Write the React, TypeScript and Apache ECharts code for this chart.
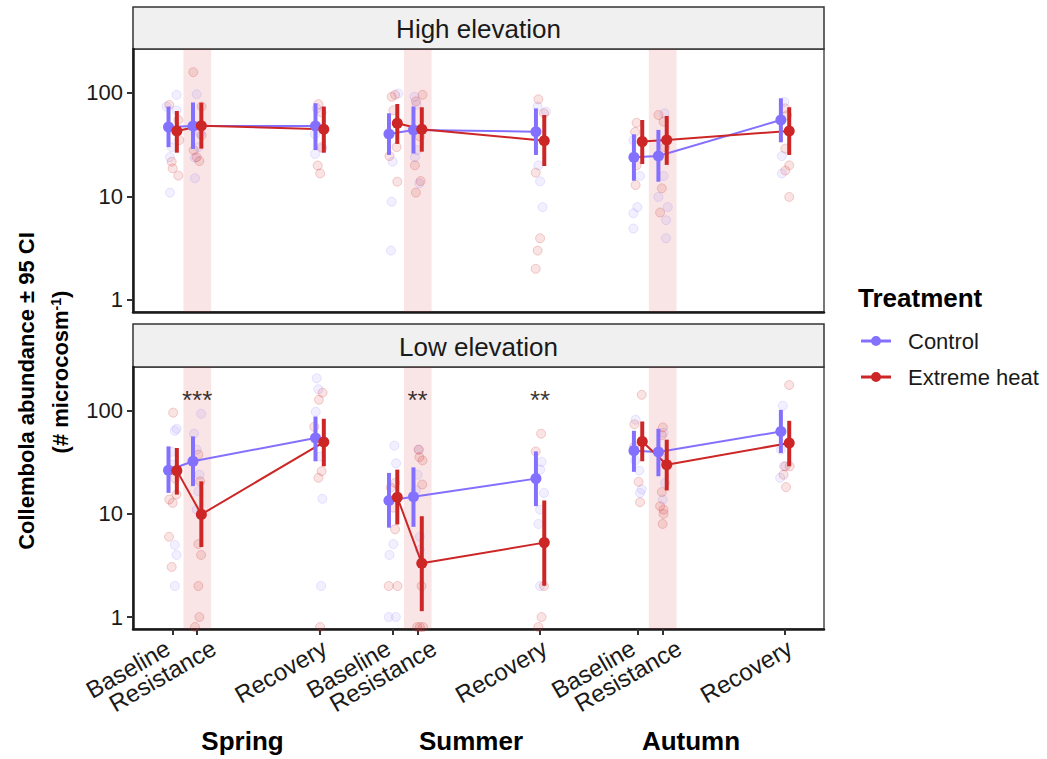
import React, { useEffect, useRef } from 'react';
import * as echarts from 'echarts';

const FONT = "'Liberation Sans', Arial, Helvetica, sans-serif";
const CONTROL = '#8470FF';
const HEAT = '#CD2626';

// x positions (time units) of the nine sampling points
const positions = [0, 1, 6, 9, 10, 15, 19, 20, 25];
const phaseLabels = ['Baseline', 'Resistance', 'Recovery', 'Baseline', 'Resistance', 'Recovery', 'Baseline', 'Resistance', 'Recovery'];
const seasons = ['Spring', 'Summer', 'Autumn'];
const panelTitles = ['High elevation', 'Low elevation'];
const treatments = ['Control', 'Extreme heat'];
const yTickValues = [1, 10, 100];

// High elevation – means and 95% CI
const highControlMean = [47, 48, 48, 40.2, 44, 42.3, 23.9, 24.6, 54.8];
const highControlLo = [30, 28.8, 28.1, 25.2, 26, 25.2, 14.2, 13.9, 33.4];
const highControlHi = [74, 81, 79.6, 63.7, 74, 71, 39.9, 44, 88.9];
const highHeatMean = [43, 48.3, 44.6, 51, 44.6, 34.6, 33.9, 35.2, 43];
const highHeatLo = [26.5, 29, 26.5, 32.2, 27.1, 19.7, 20.6, 20.2, 25.2];
const highHeatHi = [67, 80.6, 74, 78.3, 72.8, 61.3, 54.8, 60, 72.8];

// Low elevation – means and 95% CI
const lowControlMean = [26.5, 32.4, 54.5, 13.5, 14.7, 22, 41.1, 39.9, 63];
const lowControlLo = [16, 18.6, 32.4, 7.36, 7.5, 11.9, 25.6, 23.2, 39];
const lowControlHi = [45.2, 56.5, 88, 25, 28.3, 40.4, 64, 67, 102];
const lowHeatMean = [26.3, 9.9, 49.8, 14.5, 3.32, 5.27, 50.5, 30, 48.7];
const lowHeatLo = [15.4, 4.78, 29, 7.9, 1.14, 2.01, 32.4, 16.9, 29];
const lowHeatHi = [43.6, 20.7, 83.7, 26.9, 9.5, 13.5, 78.8, 52.5, 80];

// raw microcosm values [jittered x, abundance]
const highControlRaw = [
  [0.16, 96], [-0.25, 74], [-0.11, 24], [-0.11, 10.9], [0.16, 68], [-0.04, 30],
  [0.98, 97], [1.12, 41], [0.91, 23.7], [0.91, 15], [1.05, 30],
  [5.88, 71], [5.81, 25.8], [6.11, 29.2], [5.81, 40],
  [9.21, 99], [8.98, 21.7], [8.94, 8.9], [8.91, 3.0],
  [9.87, 92], [9.96, 77], [9.89, 24], [10.07, 13.4], [9.98, 28],
  [14.9, 74], [14.93, 20], [15.0, 14], [15.1, 7.9], [15.24, 66],
  [18.81, 35], [19.08, 15.8], [18.97, 7.9], [18.81, 6.9], [18.81, 4.9],
  [20.08, 63.7], [20.04, 15.8], [19.83, 9.9], [20.21, 7.9], [20.14, 5.9], [20.14, 3.95],
  [24.97, 82], [24.87, 24.6], [24.87, 16.7],
];
const highHeatRaw = [
  [-0.14, 76.6], [-0.04, 21.7], [0.0, 18.7], [0.23, 15.9], [0.23, 55], [0.27, 35],
  [0.84, 159], [1.18, 74], [0.86, 28], [1.09, 22], [0.98, 24], [1.18, 39],
  [5.95, 78], [6.08, 30], [5.92, 19.9], [6.02, 16.7], [6.08, 65],
  [8.94, 92], [9.08, 96], [9.01, 68], [8.85, 24.6], [9.17, 13.9], [9.14, 30],
  [10.2, 96], [9.93, 83], [9.89, 20], [10.12, 14.1], [9.93, 10.9], [10.09, 38],
  [14.93, 87], [15.16, 63.7], [14.82, 17], [15.0, 3.95], [14.9, 3.0], [14.82, 2.0],
  [18.94, 51.6], [18.88, 42], [18.94, 20], [18.9, 12.9],
  [19.83, 61.3], [20.04, 52.8], [19.97, 12], [19.9, 7], [20.1, 30],
  [25.01, 71], [25.08, 61], [25.01, 29], [25.17, 20], [25.01, 17.8], [25.17, 9.9],
];
const lowControlRaw = [
  [0.09, 64], [0.16, 67], [-0.04, 40], [0.09, 5.0], [0.16, 4.0], [0.09, 2.0], [0.0, 30],
  [1.16, 93.5], [0.87, 60], [0.98, 42], [1.05, 16.6], [0.98, 11], [1.1, 24],
  [5.88, 207], [5.95, 162], [5.84, 98], [6.11, 14], [6.06, 2.0], [6.02, 36],
  [9.05, 46], [9.12, 31], [9.01, 5.1], [8.85, 4.0], [8.82, 1.0], [9.11, 1.0],
  [10.05, 42], [10.09, 6.0], [10.09, 4.5], [9.93, 17], [10.0, 24],
  [15.06, 32], [15.0, 26.9], [15.16, 16], [15.0, 11], [14.93, 8.0], [15.0, 2.0],
  [18.9, 82], [19.05, 26.3], [19.15, 17.3], [19.08, 16], [18.88, 33],
  [20.04, 61], [20.1, 20], [20.01, 13.8], [19.97, 35],
  [24.91, 112], [24.8, 22.4], [24.83, 42], [24.95, 29],
];
const lowHeatRaw = [
  [0.02, 96], [-0.14, 13.8], [0.0, 12.8], [0.15, 15.4], [-0.15, 6.0], [-0.04, 3.06], [0.1, 22],
  [1.05, 37.6], [1.12, 20.7], [1.05, 5.1], [1.16, 4.0], [1.05, 2.0], [1.09, 1.0], [0.91, 0.8],
  [6.12, 150], [5.97, 128], [5.78, 70], [6.08, 26], [5.95, 22.4], [6.02, 0.8],
  [9.08, 20], [9.01, 11.5], [9.08, 7.1], [8.82, 2.0], [9.18, 2.0], [8.9, 18],
  [10.04, 42], [10.07, 35.6], [10.2, 33], [10.19, 19.3], [10.16, 2.0], [9.98, 0.8], [10.09, 0.8], [10.22, 0.8],
  [15.04, 60], [14.82, 40.4], [15.16, 2.0], [15.06, 1.0], [14.93, 0.8],
  [19.15, 143], [18.85, 74], [19.02, 20.5], [19.08, 13], [18.84, 45],
  [20.01, 69], [19.97, 58], [19.97, 16.3], [19.9, 11.9], [20.04, 11], [20.04, 10], [20.0, 8.0],
  [25.17, 178], [25.19, 29], [25.01, 29], [24.94, 24], [25.04, 18.2],
];

// significance stars (low elevation)
const starPositions = [1, 10, 15];
const starLabels = ['***', '**', '**'];
const starValues = [128, 128, 128];

const X_MIN = -1.62;
const X_MAX = 26.59;
const Y_MIN = -0.116;
const Y_MAX = 2.425;
const DODGE = 0.17;
// horizontal nudge of the rotated tick labels (axis units), per phase
const LABEL_NUDGE: Record<string, number> = { Baseline: -0.2, Resistance: 0.68, Recovery: 0.2 };

const lg = (v: number) => Math.log10(v);

const GRIDS = [
  { left: 133, top: 49, width: 691, height: 263 },
  { left: 133, top: 367, width: 691, height: 262 },
];

function buildOption() {
  const panels = [
    { means: [highControlMean, highHeatMean], lo: [highControlLo, highHeatLo], hi: [highControlHi, highHeatHi], raw: [highControlRaw, highHeatRaw] },
    { means: [lowControlMean, lowHeatMean], lo: [lowControlLo, lowHeatLo], hi: [lowControlHi, lowHeatHi], raw: [lowControlRaw, lowHeatRaw] },
  ];
  const colors = [CONTROL, HEAT];
  const rawFill = ['rgba(132,112,255,0.13)', 'rgba(205,38,38,0.16)'];
  const rawBorder = ['rgba(132,112,255,0.22)', 'rgba(205,38,38,0.26)'];
  const resistance = positions.filter((_, i) => phaseLabels[i] === 'Resistance');
  const labelValues = positions.map((p, i) => p + LABEL_NUDGE[phaseLabels[i]]);
  // an empty guard label at the left edge keeps the real first label from being treated as the "min" label
  const guard = X_MIN + 0.02;
  const axisLabelValues = [guard, ...labelValues];

  const series: any[] = [];
  panels.forEach((p, gi) => {
    series.push({
      type: 'scatter', xAxisIndex: gi, yAxisIndex: gi, data: [], silent: true, z: 1,
      markArea: {
        silent: true,
        itemStyle: { color: 'rgba(205,38,38,0.12)' },
        data: resistance.map((r) => [{ xAxis: r - 0.56 }, { xAxis: r + 0.57 }]),
      },
    });
    treatments.forEach((t, ti) => {
      series.push({
        name: t + ' raw', type: 'scatter', xAxisIndex: gi, yAxisIndex: gi, silent: true, z: 2,
        symbolSize: 9,
        itemStyle: { color: rawFill[ti], borderColor: rawBorder[ti], borderWidth: 1 },
        data: p.raw[ti].map(([x, v]) => [x, lg(v)]),
      });
    });
    treatments.forEach((t, ti) => {
      const off = ti === 0 ? -DODGE : DODGE;
      seasons.forEach((s, si) => {
        series.push({
          name: t + ' ' + s, type: 'line', xAxisIndex: gi, yAxisIndex: gi, silent: true, z: 3,
          symbol: 'none', lineStyle: { color: colors[ti], width: 2 },
          data: [0, 1, 2].map((k) => {
            const i = si * 3 + k;
            return [positions[i] + off, lg(p.means[ti][i])];
          }),
        });
      });
    });
    treatments.forEach((t, ti) => {
      const off = ti === 0 ? -DODGE : DODGE;
      series.push({
        name: t + ' CI', type: 'custom', xAxisIndex: gi, yAxisIndex: gi, silent: true, z: 4,
        encode: { x: 0, y: [1, 2] },
        data: positions.map((x, i) => [x + off, lg(p.lo[ti][i]), lg(p.hi[ti][i])]),
        renderItem: (params: any, api: any) => {
          const a = api.coord([api.value(0), api.value(1)]);
          const b = api.coord([api.value(0), api.value(2)]);
          return {
            type: 'line',
            shape: { x1: a[0], y1: a[1], x2: b[0], y2: b[1] },
            style: { stroke: colors[ti], lineWidth: 4 },
          };
        },
      });
    });
    treatments.forEach((t, ti) => {
      const off = ti === 0 ? -DODGE : DODGE;
      series.push({
        name: t, type: 'scatter', xAxisIndex: gi, yAxisIndex: gi, silent: true, z: 5,
        symbolSize: 11, itemStyle: { color: colors[ti], opacity: 1 },
        data: positions.map((x, i) => [x + off, lg(p.means[ti][i])]),
      });
    });
  });

  series.push({
    name: 'stars', type: 'scatter', xAxisIndex: 1, yAxisIndex: 1, silent: true, z: 6,
    symbolSize: 1, itemStyle: { color: 'transparent' },
    label: {
      show: true, position: 'inside', formatter: (q: any) => q.name,
      fontSize: 26, color: '#000', fontFamily: FONT,
    },
    data: starPositions.map((x, i) => ({ name: starLabels[i], value: [x, lg(starValues[i])] })),
  });

  const findLabel = (v: number) => {
    const i = labelValues.findIndex((p) => Math.abs(p - v) < 1e-6);
    return i >= 0 ? phaseLabels[i] : '';
  };

  const legendIcon = 'path://M0,4.5L30,4.5L30,7.5L0,7.5Z M10,6A5,5 0 1,1 20,6A5,5 0 1,1 10,6Z';

  const graphic: any[] = [];
  const stripTops = [7, 324];
  GRIDS.forEach((g, gi) => {
    graphic.push({
      type: 'rect', silent: true,
      shape: { x: g.left, y: stripTops[gi], width: g.width, height: g.top - stripTops[gi] },
      style: { fill: '#F0F0F0', stroke: '#333333', lineWidth: 1.5 },
    });
    graphic.push({
      type: 'text', silent: true,
      x: g.left + g.width / 2, y: (stripTops[gi] + g.top) / 2 + 1,
      style: {
        text: panelTitles[gi], fontSize: 26, fontFamily: FONT, fill: '#1a1a1a',
        align: 'center', verticalAlign: 'middle', textAlign: 'center', textVerticalAlign: 'middle',
      },
    });
  });
  const seasonX = [242.5, 471, 691];
  seasons.forEach((s, i) => {
    graphic.push({
      type: 'text', silent: true, x: seasonX[i], y: 741,
      style: {
        text: s, fontSize: 26, fontWeight: 'bold', fontFamily: FONT, fill: '#000',
        align: 'center', verticalAlign: 'middle', textAlign: 'center', textVerticalAlign: 'middle',
      },
    });
  });
  graphic.push({
    type: 'text', silent: true, x: 26, y: 391, rotation: Math.PI / 2,
    style: {
      text: 'Collembola abundance ± 95 CI', fontSize: 22, fontWeight: 'bold', fontFamily: FONT, fill: '#000',
      align: 'center', verticalAlign: 'middle', textAlign: 'center', textVerticalAlign: 'middle',
    },
  });
  graphic.push({
    type: 'text', silent: true, x: 60, y: 372, rotation: Math.PI / 2,
    style: {
      text: '{a|(# microcosm}{s|-1}{a|)}',
      rich: {
        a: { fontSize: 22, fontWeight: 'bold', fontFamily: FONT, fill: '#000', color: '#000' },
        s: { fontSize: 14, fontWeight: 'bold', fontFamily: FONT, fill: '#000', color: '#000', verticalAlign: 'top' },
      },
      align: 'center', verticalAlign: 'middle', textAlign: 'center', textVerticalAlign: 'middle',
    },
  });
  graphic.push({
    type: 'text', silent: true, x: 858, y: 298,
    style: {
      text: 'Treatment', fontSize: 26, fontWeight: 'bold', fontFamily: FONT, fill: '#000',
      align: 'left', verticalAlign: 'middle', textAlign: 'left', textVerticalAlign: 'middle',
    },
  });

  return {
    animation: false,
    backgroundColor: '#ffffff',
    textStyle: { fontFamily: FONT },
    grid: GRIDS.map((g) => ({ ...g, show: true, borderColor: '#4d4d4d', borderWidth: 1.5, backgroundColor: 'transparent' })),
    xAxis: GRIDS.map((_, gi) => ({
      type: 'value', gridIndex: gi, min: X_MIN, max: X_MAX,
      axisLine: { show: true, onZero: false, lineStyle: { color: '#1a1a1a', width: 2.5 } },
      axisTick: gi === 1
        ? { show: true, customValues: positions, length: 6, lineStyle: { color: '#333', width: 2 } }
        : { show: false },
      axisLabel: gi === 1
        ? {
            show: true, customValues: axisLabelValues, rotate: 30, margin: 17, fontSize: 24,
            showMinLabel: true, showMaxLabel: true, hideOverlap: false,
            color: '#1a1a1a', fontFamily: FONT, formatter: (v: number) => findLabel(v),
          }
        : { show: false },
      splitLine: { show: false },
    })),
    yAxis: GRIDS.map((_, gi) => ({
      type: 'value', gridIndex: gi, min: Y_MIN, max: Y_MAX,
      axisLine: { show: true, onZero: false, lineStyle: { color: '#1a1a1a', width: 2.5 } },
      axisTick: { show: true, customValues: yTickValues.map(lg), length: 6, lineStyle: { color: '#333', width: 2 } },
      axisLabel: {
        show: true, customValues: yTickValues.map(lg), margin: 10, fontSize: 22,
        showMinLabel: true, showMaxLabel: true,
        color: '#1a1a1a', fontFamily: FONT,
        formatter: (v: number) => String(Math.round(Math.pow(10, v))),
      },
      splitLine: { show: false },
    })),
    legend: {
      orient: 'vertical', left: 861, top: 329, padding: 0,
      itemWidth: 30, itemHeight: 10, itemGap: 12, selectedMode: false,
      data: treatments.map((t) => ({ name: t, icon: legendIcon })),
      textStyle: { fontSize: 22, color: '#1a1a1a', fontFamily: FONT, lineHeight: 24, padding: [0, 0, 0, 12] },
    },
    graphic,
    series,
  };
}

export default function App() {
  const ref = useRef<HTMLDivElement>(null);
  useEffect(() => {
    if (!ref.current) return;
    const chart = echarts.init(ref.current, null, { renderer: 'svg' });
    chart.setOption(buildOption() as any);
    return () => chart.dispose();
  }, []);
  return (
    <div
      ref={ref}
      style={{ position: 'absolute', left: 0, top: 0, width: 1047, height: 759, background: '#fff' }}
    />
  );
}
